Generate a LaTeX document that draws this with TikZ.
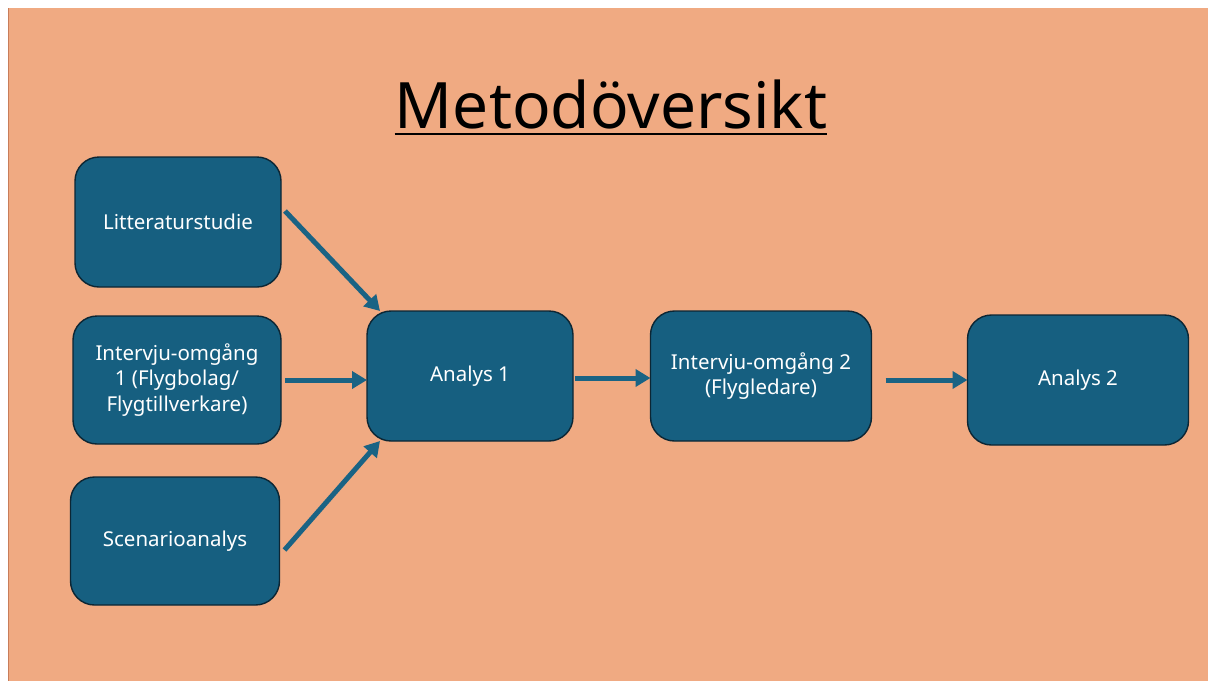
\documentclass[tikz,border=0pt]{standalone}
\usepackage{fontspec}
\setmainfont{Noto Sans}
\usetikzlibrary{arrows.meta}

\definecolor{bgsalmon}{RGB}{240,170,130}
\definecolor{edgesalmon}{RGB}{200,125,90}
\definecolor{boxblue}{RGB}{22,95,128}
\definecolor{boxedge}{RGB}{12,38,52}
\definecolor{arrowblue}{RGB}{26,99,132}

\tikzset{
  stepbox/.style={draw=boxedge, line width=1.4pt, fill=boxblue, rounded corners=24pt,
    text=white, font=\fontsize{20.5}{25.5}\selectfont, align=center,
    inner sep=0pt, outer sep=0pt},
  flow/.style={draw=arrowblue, line width=5pt, -{Triangle[length=15pt,width=17pt]}}
}

\begin{document}
\begin{tikzpicture}[x=1pt,y=-1pt]
\useasboundingbox (0,0) rectangle (1208,681);
\fill[white] (0,0) rectangle (1208,681);
\fill[bgsalmon] (8,8) rectangle (1208,681);
\draw[edgesalmon, line width=1pt] (8.5,8) -- (8.5,681);

% title
\node[inner sep=0pt, font=\fontsize{64}{68}\selectfont] (title) at (611,104) {Metodöversikt};
\draw[line width=1.6pt] ([yshift=-6pt]title.base west) -- ([yshift=-6pt]title.base east);

% boxes
\node[stepbox, minimum width=206pt, minimum height=130pt] (lit) at (178,222) {Litteraturstudie};
\node[stepbox, minimum width=208pt, minimum height=128pt] (int1) at (177,380) {Intervju-omgång\\1 (Flygbolag/\\Flygtillverkare)};
\node[stepbox, minimum width=209pt, minimum height=128pt] (scen) at (175,541) {Scenarioanalys};
\node[stepbox, minimum width=206pt, minimum height=130pt] (an1) at (470,376) {Analys 1};
\node[stepbox, minimum width=221pt, minimum height=130pt] (int2) at (761,376) {Intervju-omgång 2\\(Flygledare)};
\node[stepbox, minimum width=221pt, minimum height=130pt] (an2) at (1078,380) {Analys 2};

% arrows
\draw[flow] ([shift={(4,-11)}]lit.east) -- ([xshift=13pt]an1.north west);
\draw[flow, shorten <=4pt] (int1.east) -- (int1.east -| an1.west);
\draw[flow] ([shift={(5,9)}]scen.east) -- ([xshift=13pt]an1.south west);
\draw[flow, shorten <=2pt] ([yshift=-2pt]an1.east) -- ([yshift=-2pt]an1.east -| int2.west);
\draw[flow, shorten <=14pt] (int2.east |- an2.west) -- (an2.west);
\end{tikzpicture}
\end{document}
